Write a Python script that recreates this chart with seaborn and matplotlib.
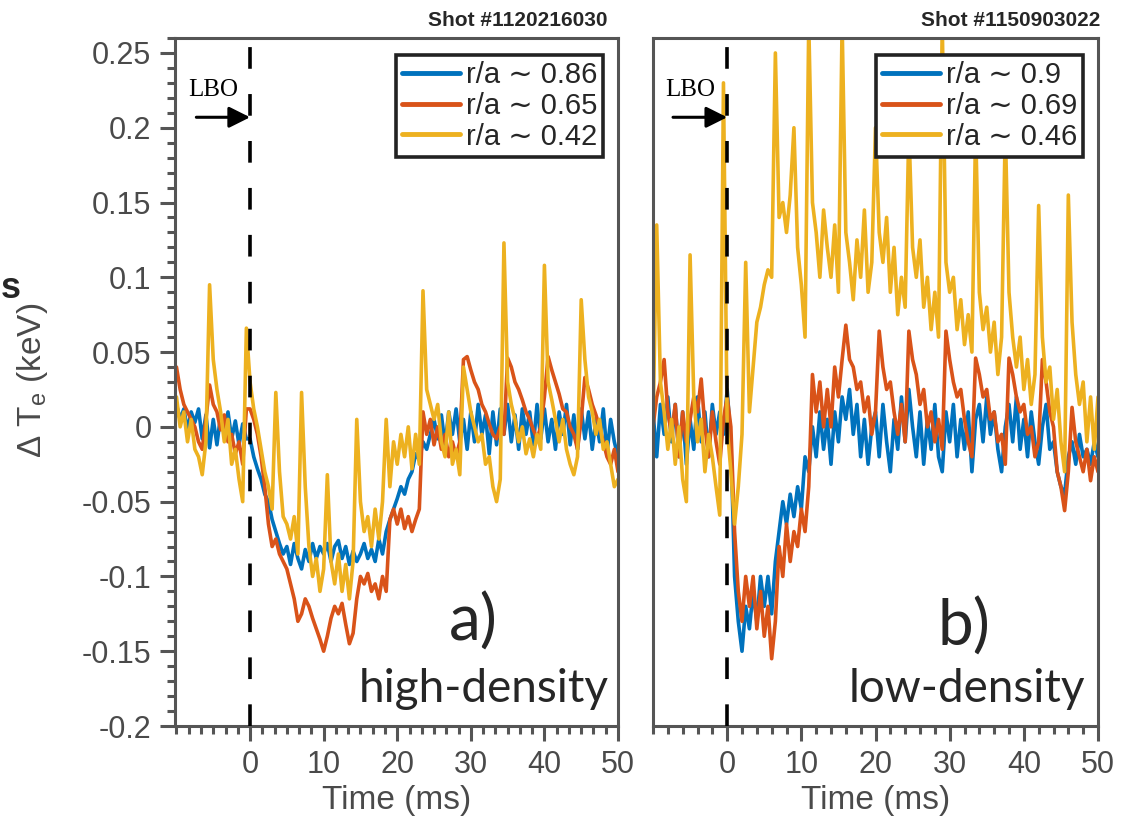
import numpy as np
import pandas as pd
import matplotlib
matplotlib.use("Agg")
import matplotlib.pyplot as plt
import seaborn as sns
from matplotlib.lines import Line2D
from matplotlib.ticker import FixedLocator, MultipleLocator

# ---------------- data (keV), sampled every 0.5 ms from -10 to 50 ms ----------------
t_start, t_end = -10.0, 50.0

# Panel a) Shot #1120216030 (high density)
a_labels = ["r/a \u223c 0.86", "r/a \u223c 0.65", "r/a \u223c 0.42"]
a_blue = [
    0.015, 0.005, 0.012, -0.002, 0.010, 0.003, 0.012, -0.008, 0.008, -0.014,
    0.005, -0.012, 0.008, -0.005, 0.010, -0.008, 0.004, -0.012, 0.002, -0.008,
    -0.008, -0.020, -0.028, -0.035, -0.045, -0.050, -0.062, -0.070, -0.078, -0.085,
    -0.080, -0.092, -0.078, -0.088, -0.095, -0.082, -0.090, -0.078, -0.088, -0.080,
    -0.085, -0.078, -0.090, -0.080, -0.076, -0.088, -0.080, -0.092, -0.083, -0.090,
    -0.085, -0.078, -0.088, -0.082, -0.090, -0.075, -0.085, -0.070, -0.062, -0.055,
    -0.048, -0.040, -0.045, -0.035, -0.030, -0.018, -0.022, -0.010, -0.015, -0.005,
    0.005, -0.008, 0.008, -0.012, 0.010, -0.005, 0.012, -0.010, 0.005, -0.015,
    0.010, -0.010, 0.015, -0.005, 0.008, -0.018, 0.010, -0.012, 0.012, -0.005,
    0.015, -0.010, 0.008, -0.015, 0.012, -0.005, 0.010, -0.012, 0.015, -0.008,
    0.012, -0.010, 0.005, -0.015, 0.010, -0.005, 0.015, -0.012, 0.008, -0.015,
    0.012, -0.008, 0.010, -0.015, 0.005, -0.010, 0.012, -0.018, 0.005, -0.010,
    -0.020,
]
a_red = [
    0.040, 0.025, 0.015, 0.010, 0.005, 0.000, -0.010, -0.015, 0.005, 0.028,
    0.015, 0.010, -0.002, 0.008, -0.010, -0.005, -0.018, -0.010, -0.025, 0.012,
    0.012, 0.005, -0.005, -0.020, -0.040, -0.065, -0.080, -0.075, -0.085, -0.090,
    -0.095, -0.105, -0.115, -0.130, -0.125, -0.115, -0.120, -0.128, -0.135, -0.142,
    -0.150, -0.140, -0.128, -0.120, -0.125, -0.118, -0.132, -0.145, -0.138, -0.115,
    -0.100, -0.105, -0.098, -0.110, -0.105, -0.115, -0.100, -0.110, -0.062, -0.055,
    -0.065, -0.055, -0.068, -0.060, -0.070, -0.062, -0.055, 0.010, -0.005, 0.005,
    -0.012, 0.000, -0.015, -0.005, -0.020, -0.010, -0.020, -0.010, 0.045, 0.047,
    0.038, 0.030, 0.025, 0.015, 0.010, 0.002, -0.005, -0.008, 0.000, -0.005,
    0.046, 0.040, 0.030, 0.025, 0.018, 0.010, 0.005, -0.002, -0.008, 0.000,
    0.020, 0.047, 0.038, 0.030, 0.022, 0.012, 0.010, 0.000, -0.005, -0.015,
    0.005, 0.033, 0.025, 0.015, 0.008, 0.000, -0.010, -0.020, -0.025, -0.015,
    -0.030,
]
a_yellow = [
    0.020, 0.000, 0.010, -0.010, 0.005, -0.015, -0.020, -0.032, -0.010, 0.095,
    0.045, 0.025, 0.010, -0.010, 0.005, -0.025, -0.015, -0.035, -0.050, 0.066,
    0.030, 0.012, 0.000, -0.015, -0.030, -0.040, -0.055, 0.023, -0.030, -0.060,
    -0.065, -0.075, -0.060, -0.085, 0.023, -0.040, -0.080, -0.100, -0.088, -0.110,
    -0.095, -0.032, -0.090, -0.105, -0.085, -0.110, -0.092, -0.115, -0.090, 0.005,
    -0.050, -0.070, -0.060, -0.080, -0.055, -0.075, -0.050, 0.005, -0.040, -0.010,
    -0.025, -0.005, -0.020, 0.000, -0.028, -0.005, -0.025, 0.091, 0.025, 0.015,
    0.005, 0.015, -0.010, -0.020, 0.010, -0.025, -0.015, -0.032, 0.040, 0.025,
    0.010, 0.000, -0.010, -0.005, -0.025, -0.020, -0.040, -0.050, -0.035, 0.123,
    0.030, 0.015, 0.005, -0.010, 0.000, -0.018, -0.008, -0.020, -0.005, -0.015,
    0.108, 0.030, 0.018, 0.005, -0.010, 0.005, -0.015, -0.025, -0.032, -0.020,
    0.085, 0.045, 0.020, 0.010, -0.005, 0.005, -0.015, -0.010, -0.025, -0.040,
    -0.035,
]

# Panel b) Shot #1150903022 (low density)
b_labels = ["r/a \u223c 0.9", "r/a \u223c 0.69", "r/a \u223c 0.46"]
b_blue = [
    0.010, -0.020, 0.015, -0.005, 0.020, -0.010, 0.015, -0.020, 0.010, -0.025,
    0.005, -0.015, 0.020, -0.010, 0.010, -0.020, 0.015, -0.005, 0.010, -0.005,
    0.025, -0.010, -0.100, -0.130, -0.150, -0.120, -0.135, -0.110, -0.130, -0.100,
    -0.120, -0.100, -0.125, -0.090, -0.070, -0.050, -0.065, -0.045, -0.060, -0.040,
    -0.055, -0.020, -0.030, 0.000, -0.020, 0.010, -0.015, 0.005, -0.025, 0.010,
    -0.010, 0.020, 0.005, 0.025, -0.005, 0.015, -0.020, 0.005, -0.025, 0.000,
    0.010, -0.020, 0.015, -0.010, -0.030, 0.005, -0.015, 0.020, -0.010, 0.025,
    0.000, -0.020, 0.010, -0.025, 0.005, -0.015, 0.015, -0.020, -0.030, 0.010,
    -0.010, 0.015, -0.020, 0.005, -0.015, 0.010, -0.030, 0.005, 0.015, -0.010,
    0.020, -0.005, 0.010, -0.015, -0.030, 0.000, 0.015, -0.010, 0.020, -0.015,
    0.005, -0.020, 0.010, -0.010, -0.025, 0.000, 0.015, -0.015, -0.010, -0.030,
    -0.040, -0.045, -0.020, -0.010, -0.025, -0.005, -0.020, -0.015, -0.025, -0.010,
    -0.020,
]
b_red = [
    0.000, 0.020, 0.030, 0.045, 0.010, -0.005, 0.015, -0.020, 0.010, -0.010,
    0.005, 0.020, 0.010, 0.032, 0.000, -0.020, 0.010, -0.010, -0.025, 0.005,
    0.020, 0.000, -0.070, -0.110, -0.130, -0.100, -0.120, -0.100, -0.135, -0.110,
    -0.140, -0.120, -0.155, -0.130, -0.080, -0.100, -0.065, -0.090, -0.070, -0.080,
    -0.055, -0.070, -0.040, 0.035, 0.010, 0.030, 0.000, 0.025, 0.000, 0.040,
    0.020, 0.045, 0.068, 0.045, 0.040, 0.025, 0.030, 0.010, 0.020, -0.005,
    0.010, 0.064, 0.040, 0.025, 0.030, 0.010, -0.005, 0.015, -0.010, 0.064,
    0.045, 0.035, 0.015, 0.025, 0.000, 0.010, -0.010, 0.005, -0.015, 0.064,
    0.045, 0.030, 0.020, 0.025, 0.005, -0.010, -0.020, 0.046, 0.035, 0.020,
    0.025, 0.005, 0.010, -0.010, -0.005, -0.025, 0.046, 0.035, 0.020, 0.010,
    0.015, -0.005, 0.000, -0.020, -0.010, 0.045, 0.030, 0.010, 0.000, -0.030,
    -0.040, -0.056, -0.030, 0.013, -0.010, -0.020, -0.030, -0.015, -0.036, -0.020,
    -0.030,
]
b_yellow = [
    0.000, 0.135, 0.030, 0.010, -0.015, 0.005, -0.025, 0.000, -0.035, -0.050,
    0.115, 0.020, -0.010, 0.005, -0.030, -0.005, -0.020, -0.040, -0.059, 0.230,
    0.000, -0.030, -0.065, -0.040, -0.005, 0.110, 0.010, 0.040, 0.070, 0.080,
    0.095, 0.105, 0.100, 0.250, 0.140, 0.150, 0.130, 0.155, 0.200, 0.120,
    0.095, 0.060, 0.270, 0.150, 0.130, 0.100, 0.145, 0.120, 0.100, 0.135,
    0.090, 0.270, 0.130, 0.110, 0.085, 0.125, 0.100, 0.145, 0.090, 0.110,
    0.200, 0.130, 0.110, 0.140, 0.090, 0.120, 0.075, 0.100, 0.080, 0.200,
    0.120, 0.100, 0.125, 0.080, 0.100, 0.065, 0.090, 0.060, 0.270, 0.110,
    0.090, 0.100, 0.065, 0.085, 0.055, 0.075, 0.050, 0.200, 0.090, 0.065,
    0.080, 0.050, 0.070, 0.035, 0.060, 0.200, 0.090, 0.060, 0.040, 0.060,
    0.025, 0.045, 0.015, 0.035, 0.148, 0.060, 0.030, 0.040, 0.005, 0.025,
    -0.010, -0.030, 0.155, 0.070, 0.035, 0.015, 0.030, -0.010, 0.020, -0.015,
    0.020,
]

colors = ["#0072BD", "#D95319", "#EDB120"]
y_ticks = [-0.2, -0.15, -0.1, -0.05, 0, 0.05, 0.1, 0.15, 0.2, 0.25]
y_ticklabels = ["-0.2", "-0.15", "-0.1", "-0.05", "0", "0.05", "0.1", "0.15", "0.2", "0.25"]
x_ticks = [0, 10, 20, 30, 40, 50]
x_ticklabels = ["0", "10", "20", "30", "40", "50"]

# ---------------- figure ----------------
sns.set_style("white")
plt.rcParams["font.family"] = ["Liberation Sans", "DejaVu Sans"]
plt.rcParams["mathtext.fontset"] = "custom"
plt.rcParams["mathtext.rm"] = "Liberation Sans"
plt.rcParams["mathtext.it"] = "Liberation Sans:italic"

W, H = 1124, 823
fig = plt.figure(figsize=(W / 100, H / 100), dpi=100)
gray = "#555555"
tick_gray = "#4a4a4a"


def fx(px):
    return px / W


def fy(py):
    return 1 - py / H


ax1 = fig.add_axes([fx(175), fy(726), fx(618 - 175), (726 - 38) / H])
ax2 = fig.add_axes([fx(653), fy(726), fx(1098 - 653), (726 - 38) / H])


def draw(ax, series, labels, xlim, minor_step, show_y):
    n = len(series[0])
    t = np.linspace(t_start, t_end, n)
    df = pd.DataFrame({
        "t": np.concatenate([t] * len(series)),
        "v": np.concatenate([np.asarray(s) for s in series]),
        "probe": np.repeat(labels, n),
    })
    sns.lineplot(data=df, x="t", y="v", hue="probe", hue_order=labels,
                 palette=colors, ax=ax, lw=2.6, estimator=None, sort=False,
                 legend=False)
    ax.set_xlim(*xlim)
    ax.set_ylim(-0.2, 0.26)
    # LBO dashed line
    ax.plot([0, 0], [-0.2, 0.26], color="k", lw=2.6, ls=(0, (6, 7)), zorder=5)
    for sp in ax.spines.values():
        sp.set_color(gray)
        sp.set_linewidth(2.2)
    ax.xaxis.set_major_locator(FixedLocator(x_ticks))
    ax.set_xticklabels(x_ticklabels)
    ax.xaxis.set_minor_locator(MultipleLocator(minor_step))
    ax.tick_params(axis="x", which="major", direction="out", length=11, width=2.2,
                   color=gray, labelsize=22, labelcolor=tick_gray, pad=6,
                   bottom=True, top=False)
    ax.tick_params(axis="x", which="minor", direction="out", length=6, width=2.2,
                   color=gray, bottom=True, top=False)
    if show_y:
        ax.yaxis.set_major_locator(FixedLocator(y_ticks))
        ax.set_yticklabels(y_ticklabels)
        ax.yaxis.set_minor_locator(MultipleLocator(0.01))
        ax.tick_params(axis="y", which="major", direction="out", length=11, width=2.2,
                       color=gray, labelsize=22, labelcolor=tick_gray, pad=6,
                       left=True, right=False)
        ax.tick_params(axis="y", which="minor", direction="out", length=6, width=2.2,
                       color=gray, left=True, right=False)
    else:
        ax.set_yticks([])
    ax.set_ylabel("")
    ax.set_xlabel("Time (ms)", fontsize=24, color=tick_gray, labelpad=4)
    # arrow + LBO
    ax.annotate("", xy=(0, 0.207), xytext=(-7.3, 0.207),
                arrowprops=dict(arrowstyle="-|>", lw=2.2, color="k",
                                mutation_scale=32, shrinkA=0, shrinkB=0), zorder=6)
    ax.text(-5.0, 0.218, "LBO", family=["Liberation Serif"], fontsize=18,
            ha="center", va="bottom", color="k")
    # legend
    handles = [Line2D([], [], color=c, lw=3.5) for c in colors]
    leg = ax.legend(handles, labels, loc="upper right",
                    bbox_to_anchor=(1 - 15 / 445, 1 - 17 / 688),
                    borderaxespad=0, handlelength=2.0,
                    handletextpad=0.2, labelspacing=0.1, borderpad=0.2,
                    fancybox=False, framealpha=1, edgecolor="#222222",
                    prop={"family": ["Liberation Sans", "DejaVu Sans"], "size": 21})
    leg.get_frame().set_linewidth(2.6)


draw(ax1, [a_blue, a_red, a_yellow], a_labels, (-10.2, 50), 10 / 6, True)
draw(ax2, [b_blue, b_red, b_yellow], b_labels, (-10.0, 50), 2, False)

# panel annotations
ax1.text(30.3, -0.143, "a)", family=["Lato", "DejaVu Sans"], fontsize=46,
         ha="center", va="baseline")
ax1.text(48.8, -0.184, "high-density", family=["Lato", "DejaVu Sans"], fontsize=33,
         ha="right", va="baseline")
ax2.text(31.9, -0.146, "b)", family=["Lato", "DejaVu Sans"], fontsize=46,
         ha="center", va="baseline")
ax2.text(48.2, -0.184, "low-density", family=["Lato", "DejaVu Sans"], fontsize=33,
         ha="right", va="baseline")

fig.text(fx(607), fy(26), "Shot #1120216030", fontsize=15, fontweight="bold",
         ha="right", va="baseline")
fig.text(fx(1100), fy(26), "Shot #1150903022", fontsize=15, fontweight="bold",
         ha="right", va="baseline")

fig.text(fx(33), fy(380), "$\\Delta$ T$_{\\rm e}$ (keV)", fontsize=24, color=tick_gray,
         rotation=90, ha="center", va="center")
fig.text(fx(1), fy(298), "s", fontsize=26, fontweight="bold", ha="left",
         va="baseline")

fig.savefig("out.png", dpi=100)
